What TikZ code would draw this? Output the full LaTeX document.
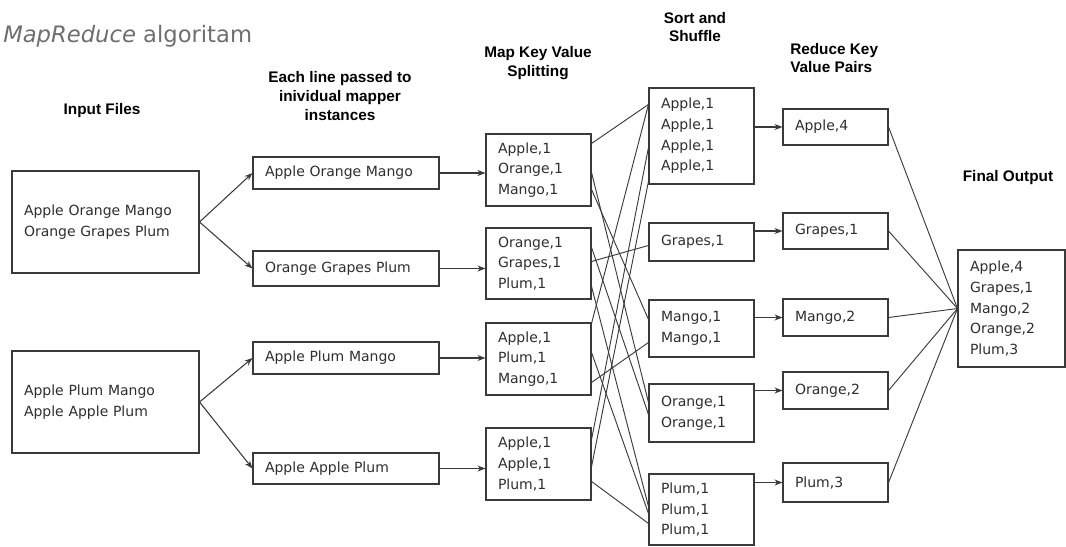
\documentclass[tikz,border=0pt]{standalone}
\usepackage{fontspec}
\setmainfont{DejaVu Sans}
\newfontfamily\headfont{Liberation Sans}
\usetikzlibrary{arrows.meta,calc}
\definecolor{ln}{HTML}{3A3A3A}
\definecolor{titlegrey}{HTML}{6E6E6E}
\definecolor{boxtext}{HTML}{2E2E2E}
\begin{document}
\begin{tikzpicture}[x=0.75pt,y=-0.75pt,
  box/.style={draw=ln, line width=0.8pt, rectangle, inner xsep=9pt, inner ysep=0pt,
    align=left, font=\fontsize{10.5}{15.5}\selectfont, text=boxtext},
  colI/.style={box, minimum width=140.25pt, text width=122.25pt, minimum height=76.5pt},
  colL/.style={box, minimum width=139.5pt, text width=121.5pt},
  colM/.style={box, minimum width=78.75pt, text width=60.75pt, minimum height=54pt},
  colS/.style={box, minimum width=78.75pt, text width=60.75pt},
  colR/.style={box, minimum width=78.75pt, text width=60.75pt},
  colF/.style={box, minimum width=80.25pt, text width=62.25pt, minimum height=87.75pt},
  head/.style={font=\headfont\bfseries\fontsize{11.5}{14}\selectfont, align=center, inner sep=0pt},
  arr/.style={draw=ln, line width=0.8pt, -{Stealth[length=6pt,width=4.5pt]}},
  wire/.style={draw=ln, line width=0.7pt}]
\useasboundingbox (0,0) rectangle (1066,546);

% title
\node[anchor=base west, text=titlegrey, font=\fontsize{17}{20}\selectfont, inner sep=0pt]
  (title) at (3,42) {\textit{MapReduce} algoritam};

% headings
\node[head] (hIn) at (102,111) {Input Files};
\node[head] (hLine) at (340,96) {Each line passed to\\inividual mapper\\instances};
\node[head] (hMap) at (538,63) {Map Key Value\\Splitting};
\node[head] (hSort) at (695,27) {Sort and\\Shuffle};
\node[head, align=left, anchor=west] (hRed) at (790,58) {Reduce Key\\Value Pairs};
\node[head] (hFin) at (1008,178) {Final Output};

% input files
\node[colI] (I1) at (105.5,222) {Apple Orange Mango\\Orange Grapes Plum};
\node[colI] (I2) at (105.5,402) {Apple Plum Mango\\Apple Apple Plum};

% lines
\node[colL, minimum height=24pt] (L1) at (346,173) {Apple Orange Mango};
\node[colL, minimum height=26.25pt] (L2) at (346,268.5) {Orange Grapes Plum};
\node[colL, minimum height=24pt] (L3) at (346,358) {Apple Plum Mango};
\node[colL, minimum height=23.25pt] (L4) at (346,468.5) {Apple Apple Plum};

% map
\node[colM] (M1) at (538.5,170) {Apple,1\\Orange,1\\Mango,1};
\node[colM, minimum height=53.25pt] (M2) at (538.5,263.5) {Orange,1\\Grapes,1\\Plum,1};
\node[colM] (M3) at (538.5,359) {Apple,1\\Plum,1\\Mango,1};
\node[colM] (M4) at (538.5,464) {Apple,1\\Apple,1\\Plum,1};

% sort and shuffle
\node[colS, minimum height=72pt] (S1) at (701.5,136) {Apple,1\\Apple,1\\Apple,1\\Apple,1};
\node[colS, minimum height=28.5pt] (S2) at (701.5,242) {Grapes,1};
\node[colS, minimum height=42.75pt] (S3) at (701.5,328.5) {Mango,1\\Mango,1};
\node[colS, minimum height=43.5pt] (S4) at (701.5,413) {Orange,1\\Orange,1};
\node[colS, minimum height=53.25pt] (S5) at (701.5,509.5) {Plum,1\\Plum,1\\Plum,1};

% reduce
\node[colR, minimum height=27pt] (R1) at (835.5,127) {Apple,4};
\node[colR, minimum height=27pt] (R2) at (835.5,231) {Grapes,1};
\node[colR, minimum height=27.75pt] (R3) at (835.5,317.5) {Mango,2};
\node[colR, minimum height=27.75pt] (R4) at (835.5,390.5) {Orange,2};
\node[colR, minimum height=29.25pt] (R5) at (835.5,482.5) {Plum,3};

% final
\node[colF] (F) at (1011.5,308.5) {Apple,4\\Grapes,1\\Mango,2\\Orange,2\\Plum,3};

% input -> lines
\draw[arr] (I1.east) -- (L1.west);
\draw[arr] (I1.east) -- (L2.west);
\draw[arr] (I2.east) -- (L3.west);
\draw[arr] (I2.east) -- (L4.west);

% lines -> map
\draw[arr] (L1.east) -- (L1.east -| M1.west);
\draw[arr] (L2.east) -- (L2.east -| M2.west);
\draw[arr] (L3.east) -- (L3.east -| M3.west);
\draw[arr] (L4.east) -- (L4.east -| M4.west);

% map -> sort (shuffle wires)
\draw[wire] ($(M1.north east)+(0,10)$) -- ($(S1.north west)+(0,17)$);
\draw[wire] ($(M1.north east)+(0,39)$) -- ($(S4.north west)+(0,19)$);
\draw[wire] ($(M1.north east)+(0,56)$) -- ($(S3.north west)+(0,20)$);
\draw[wire] ($(M2.north east)+(0,20)$) -- ($(S4.north west)+(0,31)$);
\draw[wire] ($(M2.north east)+(0,34)$) -- ($(S2.north west)+(0,23)$);
\draw[wire] ($(M2.north east)+(0,59)$) -- ($(S5.north west)+(0,33)$);
\draw[wire] ($(M3.north east)+(0,1)$) -- ($(S1.north west)+(0,17)$);
\draw[wire] ($(M3.north east)+(0,30)$) -- ($(S5.north west)+(0,40)$);
\draw[wire] ($(M3.north east)+(0,60)$) -- ($(S3.north west)+(0,43)$);
\draw[wire] ($(M4.north east)+(0,12)$) -- ($(S1.north west)+(0,60)$);
\draw[wire] ($(M4.north east)+(0,39)$) -- ($(S1.north west)+(0,94)$);
\draw[wire] ($(M4.north east)+(0,54)$) -- ($(S5.north west)+(0,50)$);

% sort -> reduce
\draw[arr] (R1.west -| S1.east) -- (R1.west);
\draw[arr] (R2.west -| S2.east) -- (R2.west);
\draw[arr] (R3.west -| S3.east) -- (R3.west);
\draw[arr] (R4.west -| S4.east) -- (R4.west);
\draw[arr] (R5.west -| S5.east) -- (R5.west);

% reduce -> final
\draw[wire] (R1.east) -- (F.west);
\draw[wire] (R2.east) -- (F.west);
\draw[wire] (R3.east) -- (F.west);
\draw[wire] (R4.east) -- (F.west);
\draw[wire] (R5.east) -- (F.west);
\end{tikzpicture}
\end{document}
